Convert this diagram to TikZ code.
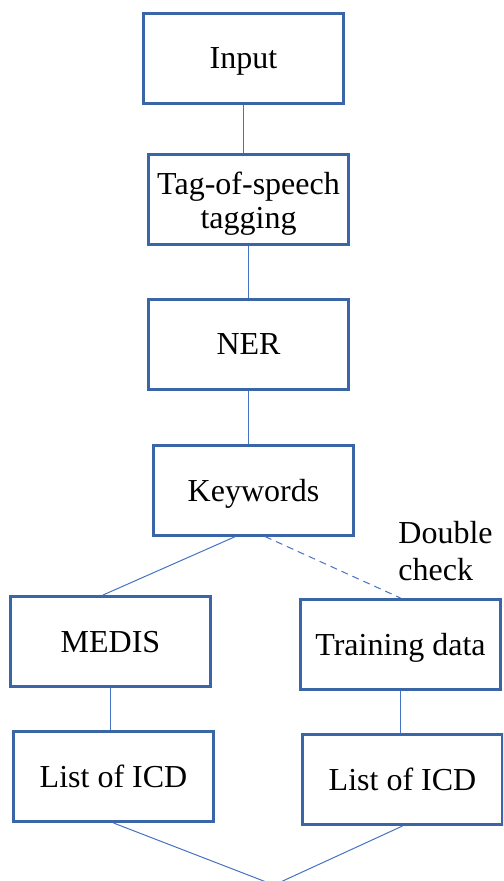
\documentclass[tikz,border=0pt]{standalone}
\usepackage{fontspec}
\setmainfont{Liberation Serif}
\usepackage{tikz}
\usepackage{xcolor}
\usetikzlibrary{positioning}

\definecolor{boxblue}{RGB}{58,102,168}
\definecolor{lineblue}{RGB}{68,114,196}

\tikzset{
    box/.style={rectangle, draw=boxblue, line width=1.5pt, fill=white,
        minimum width=100pt, minimum height=45pt, inner sep=2pt,
        text depth=0pt, align=center, font=\fontsize{16}{16.8}\selectfont},
    link/.style={draw=lineblue, line width=0.5pt},
}

\begin{document}
\begin{tikzpicture}[x=0.5pt, y=-0.5pt]
        \useasboundingbox (0, 0) rectangle (503, 881);
        \clip (0, 0) rectangle (503, 881);

        \node[box] (input) at (243.5, 58.5) {Input};
        \node[box] (tag) at (248.5, 200) {Tag-of-speech\\tagging};
        \node[box] (ner) at (248.5, 344.5) {NER};
        \node[box] (kw) at (253.5, 490) {Keywords};

        \draw[link] (input.south) -- (input.south |- tag.north)
            (tag.south) -- (tag.south |- ner.north)
            (ner.south) -- (ner.south |- kw.north);

        \node[box] (medis) at (110.5, 641.5) {MEDIS};
        \node[box] (train) at (400.5, 644.5) {Training data};
        \node[align=left, anchor=west, inner sep=0pt,
            font=\fontsize{16}{18.5}\selectfont] (dcheck) at (398, 551) {Double\\check};

        \draw[link] ([xshift=-9pt]kw.south) -- ([xshift=-3.75pt]medis.north);
        \draw[link, dash pattern=on 3.5pt off 2.5pt] ([xshift=5.75pt]kw.south) -- (train.north);

        \node[box] (icdL) at (113.5, 776.5) {List of ICD};
        \node[box] (icdR) at (402.5, 779.5) {List of ICD};

        \draw[link] (medis.south) -- (medis.south |- icdL.north)
            (train.south) -- (train.south |- icdR.north);

        \coordinate (merge) at (274, 885);
        \draw[link] (icdL.south) -- (merge)
            (icdR.south) -- (merge);
    \end{tikzpicture}
\end{document}
